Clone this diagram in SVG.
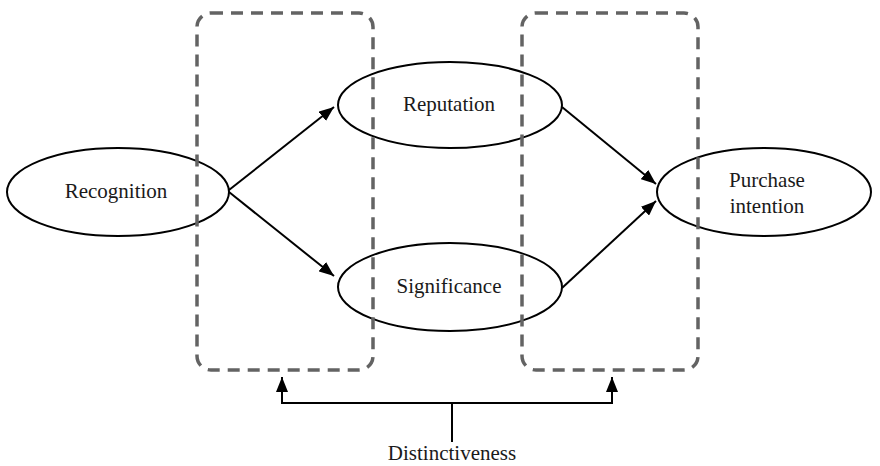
<svg xmlns="http://www.w3.org/2000/svg" width="880" height="466" viewBox="0 0 880 466">
<style>
.node ellipse{fill:#fff;stroke:#000;stroke-width:2}
.lbl{font-family:"Liberation Serif","Times New Roman",serif;font-size:21px;fill:#1a1a1a;text-anchor:middle}
.box{fill:none;stroke:#636363;stroke-width:3.5;stroke-dasharray:12 8}
.edge{fill:none;stroke:#000;stroke-width:2;marker-end:url(#ah)}
.plain{fill:none;stroke:#000;stroke-width:2}
</style>
<defs>
<marker id="ah" markerUnits="userSpaceOnUse" markerWidth="16" markerHeight="12" refX="15" refY="6" orient="auto">
<path d="M0,0 L15,6 L0,12 Z" fill="#000"/>
</marker>
</defs>
<rect width="880" height="466" fill="#fff"/>
<g id="connectors">
<line class="edge" x1="229" y1="190" x2="334" y2="107"/>
<line class="edge" x1="229" y1="192" x2="334" y2="276"/>
<line class="edge" x1="562" y1="107" x2="656" y2="184"/>
<line class="edge" x1="562" y1="288" x2="656" y2="201"/>
<path class="plain" d="M282,403 H612 M452,403 V442"/>
<line class="edge" x1="282" y1="404" x2="282" y2="377"/>
<line class="edge" x1="612" y1="404" x2="612" y2="377"/>
</g>
<g id="recognition" class="node">
<ellipse cx="118" cy="192" rx="111" ry="44"/>
<text class="lbl" x="116" y="198">Recognition</text>
</g>
<g id="reputation" class="node">
<ellipse cx="450" cy="105" rx="112" ry="43"/>
<text class="lbl" x="449" y="111">Reputation</text>
</g>
<g id="significance" class="node">
<ellipse cx="450" cy="287" rx="112" ry="44"/>
<text class="lbl" x="449" y="293">Significance</text>
</g>
<g id="purchase" class="node">
<ellipse cx="764" cy="192" rx="107" ry="44"/>
<text class="lbl" x="767" y="187">Purchase</text>
<text class="lbl" x="767" y="213">intention</text>
</g>
<g id="boxes">
<rect class="box" x="197" y="13" width="176" height="357" rx="14"/>
<rect class="box" x="522" y="13" width="176" height="357" rx="14"/>
</g>
<g id="distinctiveness">
<text class="lbl" x="452" y="460">Distinctiveness</text>
</g>
</svg>
